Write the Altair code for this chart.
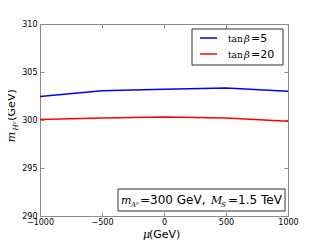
import altair as alt
import pandas as pd

mu = [-1000, -500, 0, 500, 1000]
mh_tb5 = [302.45, 303.05, 303.2, 303.33, 303.0]
mh_tb20 = [300.05, 300.22, 300.3, 300.22, 299.87]
series_names = ["tanβ=5", "tanβ=20"]
series_colors = ["#0000ff", "#ff0000"]
x_ticks = [-1000, -500, 0, 500, 1000]
y_ticks = [290, 295, 300, 305, 310]

rows = []
for m, a, b in zip(mu, mh_tb5, mh_tb20):
    rows.append({"mu": m, "mh": a, "s": series_names[0]})
    rows.append({"mu": m, "mh": b, "s": series_names[1]})
df = pd.DataFrame(rows)

W, H = 248, 192
OX, OY = 40, 24  # plot origin on page
GREY = "#8a8a8a"

xs = alt.Scale(domain=[-1000, 1000], nice=False, zero=False)
ys = alt.Scale(domain=[290, 310], nice=False, zero=False)

base = alt.Chart(df)

lines = base.mark_line(strokeWidth=1.5).encode(
    x=alt.X("mu:Q", scale=xs, axis=alt.Axis(values=x_ticks, format="d", title=None, grid=False, ticks=False,
                                            domain=False, labelFont="DejaVu Sans", labelFontSize=8,
                                            labelColor="black", labelPadding=2, labelFlush=False)),
    y=alt.Y("mh:Q", scale=ys, axis=alt.Axis(values=y_ticks, format="d", title=None, grid=False, ticks=False,
                                            domain=False, labelFont="DejaVu Sans", labelFontSize=8,
                                            labelColor="black", labelPadding=3, labelFlush=False)),
    color=alt.Color("s:N", scale=alt.Scale(domain=series_names, range=series_colors), legend=None),
    detail="s:N",
)

tick_ax = dict(labels=False, title=None, grid=False, domain=False, ticks=True, tickSize=4, tickColor=GREY, tickWidth=1)

ticks_a = base.mark_line(opacity=0).encode(
    x=alt.X("mu:Q", scale=xs, axis=alt.Axis(values=x_ticks, orient="top", offset=-H, **tick_ax)),
    y=alt.Y("mh:Q", scale=ys, axis=alt.Axis(values=y_ticks, orient="right", offset=-W, **tick_ax)),
)
ticks_b = base.mark_line(opacity=0).encode(
    x=alt.X("mu:Q", scale=xs, axis=alt.Axis(values=x_ticks, orient="bottom", offset=-H, **tick_ax)),
    y=alt.Y("mh:Q", scale=ys, axis=alt.Axis(values=y_ticks, orient="left", offset=-W, **tick_ax)),
)

one = alt.Data(values=[{}])


def txt(s, x, y, size=11, font="DejaVu Sans", style="normal", angle=0, align="left", baseline="alphabetic"):
    return alt.Chart(one).mark_text(text=s, font=font, fontSize=size, fontStyle=style, align=align,
                                    baseline=baseline, angle=angle, color="black").encode(
        x=alt.value(x - OX), y=alt.value(y - OY))


def box(x1, y1, x2, y2):
    return alt.Chart(one).mark_rect(fill="white", stroke="#333333", strokeWidth=1).encode(
        x=alt.value(x1 - OX), x2=alt.value(x2 - OX), y=alt.value(y1 - OY), y2=alt.value(y2 - OY))


def seg(x1, x2, y, color):
    return alt.Chart(one).mark_rule(color=color, strokeWidth=1.5).encode(
        x=alt.value(x1 - OX), x2=alt.value(x2 - OX), y=alt.value(y - OY))


layers = [lines, ticks_a, ticks_b,
          # legend
          box(192, 29, 283, 65),
          seg(200, 217, 38, series_colors[0]),
          seg(200, 217, 54, series_colors[1]),
          txt("tan", 228, 42, size=9, font="DejaVu Serif"),
          txt("β", 244, 42, size=10, font="DejaVu Serif", style="italic"),
          txt("=5", 251, 42, size=11),
          txt("tan", 228, 58, size=9, font="DejaVu Serif"),
          txt("β", 244, 58, size=10, font="DejaVu Serif", style="italic"),
          txt("=20", 251, 58, size=11),
          # annotation
          box(118, 189, 285, 211),
          txt("m", 121, 204, size=11, font="DejaVu Serif", style="italic"),
          txt("A⁰", 131, 207, size=7, font="DejaVu Serif", style="italic"),
          txt("=300 GeV,", 140, 204, size=12),
          txt("M", 211, 204, size=11, font="DejaVu Serif", style="italic"),
          txt("S", 221, 207, size=7, font="DejaVu Serif", style="italic"),
          txt("=1.5 TeV", 228, 204, size=12),
          # x title
          txt("μ", 143, 238, size=11, font="DejaVu Serif", style="italic"),
          txt("(GeV)", 149, 238, size=11),
          # y title
          txt("(GeV)", 12, 105, size=11, angle=270, align="center", baseline="middle"),
          txt("m", 12, 137, size=11, font="DejaVu Serif", style="italic", angle=270, align="center", baseline="middle"),
          txt("H⁰", 16, 126, size=7, font="DejaVu Serif", style="italic", angle=270, align="center", baseline="middle"),
          ]

chart = alt.layer(*layers).resolve_axis(x="independent", y="independent").properties(
    width=W, height=H,
    autosize=alt.AutoSizeParams(type="none"),
    padding={"left": OX - 8, "top": OY - 8, "right": 320 - 8 - OX - W - 8, "bottom": 232 - (OY - 8) - H},
).configure_view(stroke=GREY, strokeWidth=1)

chart.save("out.html", embed_options={"renderer": "svg", "actions": False})
